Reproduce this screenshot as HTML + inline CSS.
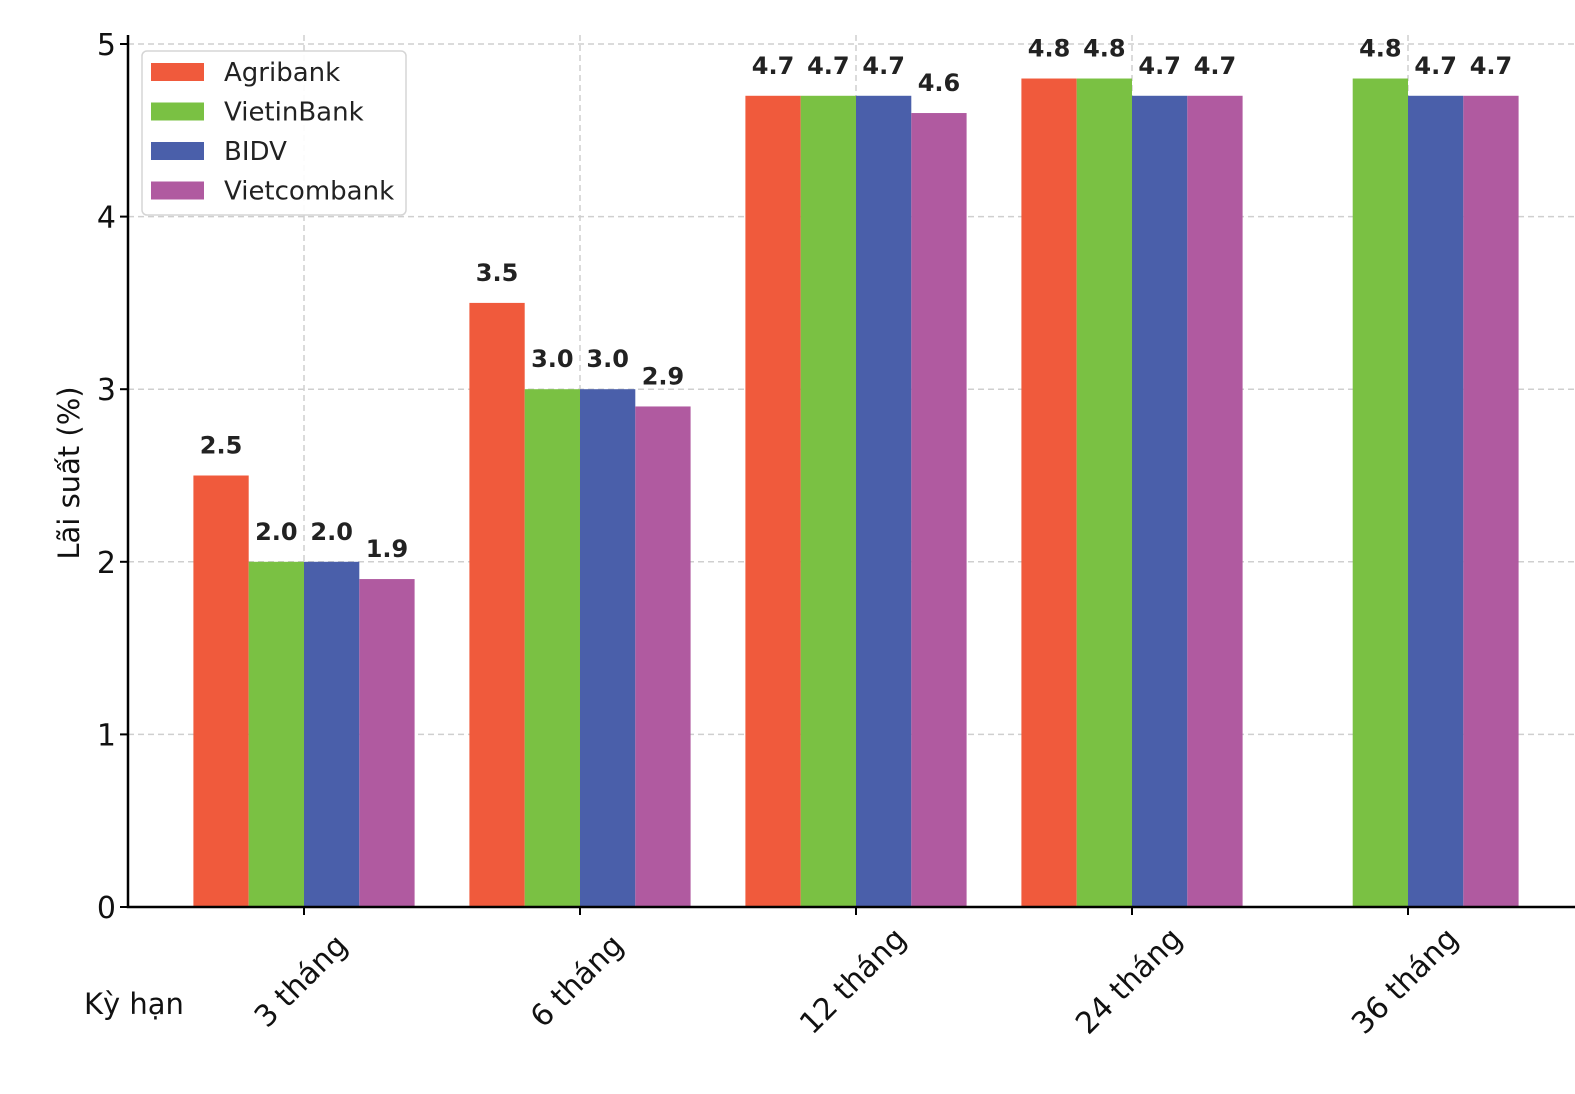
<!DOCTYPE html>
<html><head><meta charset="utf-8"><style>
html,body{margin:0;padding:0;background:#fff;}
svg{display:block;font-family:"DejaVu Sans","Liberation Sans",sans-serif;}
</style></head><body>
<svg id="chart" width="1575" height="1094" viewBox="0 0 1575 1094"></svg>
<script>
const categories = ["3 tháng","6 tháng","12 tháng","24 tháng","36 tháng"];
const seriesNames = ["Agribank","VietinBank","BIDV","Vietcombank"];
const agribank = [2.5,3.5,4.7,4.8,null];
const vietinbank = [2.0,3.0,4.7,4.8,4.8];
const bidv = [2.0,3.0,4.7,4.7,4.7];
const vietcombank = [1.9,2.9,4.6,4.7,4.7];
const yTicks = [0,1,2,3,4,5];
const series = [agribank,vietinbank,bidv,vietcombank];
const colors = ["#F05A3C","#7AC143","#4A5FAA","#B05AA0"];

const svg = document.getElementById('chart');
const NS = "http://www.w3.org/2000/svg";
const x0 = 128, yBase = 907, yTop5 = 44, axisTop = 35;
const yScale = v => yBase - v*(yBase-yTop5)/5;
const xTick = i => 304 + i*276;
const bw = 55.3;
function mk(tag, attrs, parent){const e=document.createElementNS(NS,tag);for(const k in attrs)e.setAttribute(k,attrs[k]);(parent||svg).appendChild(e);return e;}

yTicks.forEach(t=>{
  if(t===0) return;
  const g = mk('line',{x1:x0,x2:1575,y1:yScale(t),y2:yScale(t),stroke:'#cfcfcf','stroke-width':1.5,'stroke-dasharray':'6,4'});
  
  
});
categories.forEach((c,i)=>{
  const g = mk('line',{x1:xTick(i),x2:xTick(i),y1:axisTop,y2:yBase,stroke:'#cfcfcf','stroke-width':1.5,'stroke-dasharray':'6,4'});
  
  
});

series.forEach((s,si)=>{
  s.forEach((v,i)=>{
    if(v===null||v===undefined) return;
    const left = xTick(i) + (si-2)*bw;
    const r = mk('rect',{x:left,y:yScale(v),width:bw,height:yBase-yScale(v),fill:colors[si]});
    
    
    const t = mk('text',{x:left+bw/2,y:yScale(v)-22,'text-anchor':'middle','font-size':24,'font-weight':'bold',fill:'#222'});
    t.textContent = v.toFixed(1);
    
    
  });
});

const ax = mk('path',{d:`M${x0},${axisTop} V${yBase} H1575`,stroke:'#000','stroke-width':2.5,fill:'none'});


yTicks.forEach(t=>{
  const y=yScale(t);
  const tk = mk('line',{x1:x0-8,x2:x0,y1:y,y2:y,stroke:'#000','stroke-width':2});
  
  
  const l = mk('text',{x:x0-12,y:y+11,'text-anchor':'end','font-size':30,fill:'#111'});
  l.textContent = t;
  
  
});
categories.forEach((c,i)=>{
  const x=xTick(i);
  const tk = mk('line',{x1:x,x2:x,y1:yBase,y2:yBase+8,stroke:'#000','stroke-width':2});
  
  
  const l = mk('text',{x:x+4,y:988,'text-anchor':'middle','font-size':30,fill:'#111',transform:`rotate(-45 ${x+4} 988)`});
  l.textContent = c;
  
  
});
const yt = mk('text',{x:79,y:473,'text-anchor':'middle','font-size':29,fill:'#111',transform:'rotate(-90 79 473)'});
yt.textContent = 'Lãi suất (%)';


const xt = mk('text',{x:84,y:1014,'font-size':29,fill:'#111'});
xt.textContent = 'Kỳ hạn';



const lg = mk('g',{});


mk('rect',{x:142,y:51,width:264,height:164,rx:5,fill:'#fff','fill-opacity':0.9,stroke:'#d5d5d5','stroke-width':1.5},lg);
seriesNames.forEach((n,i)=>{
  const y=63+i*39.5;
  const sw = mk('rect',{x:151,y:y,width:53,height:18,fill:colors[i]},lg);
  
  
  const t = mk('text',{x:224,y:y+18,'font-size':26,fill:'#222'},lg);
  t.textContent = n;
  
  
});
</script>
</body></html>
